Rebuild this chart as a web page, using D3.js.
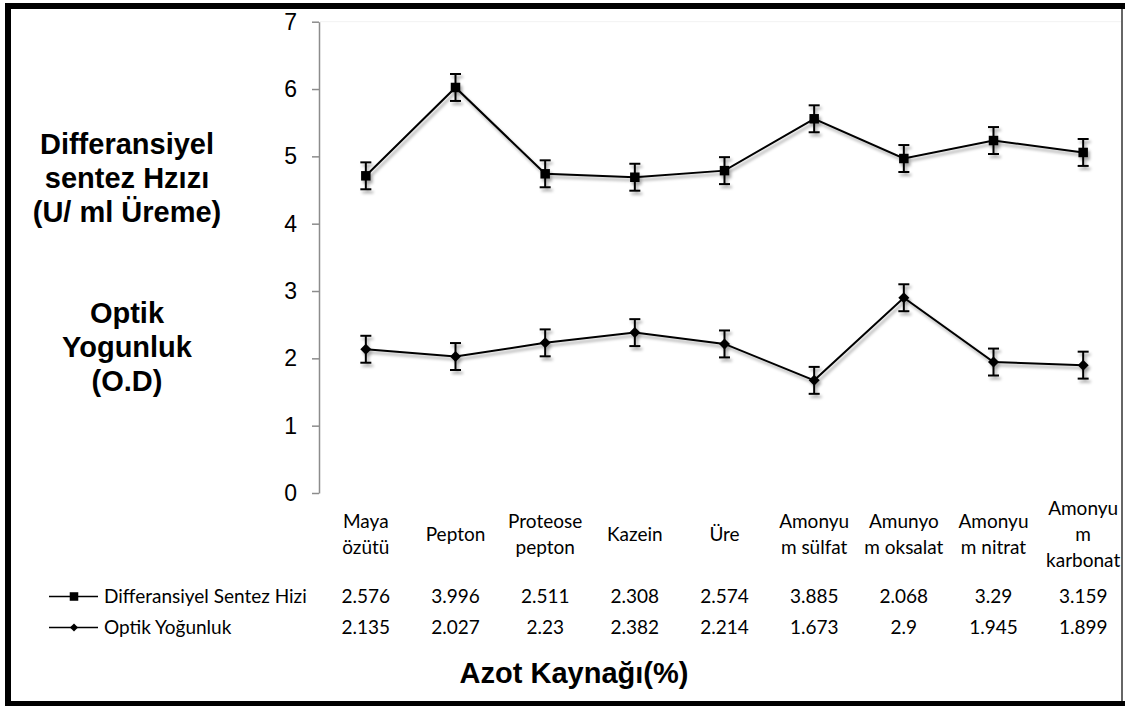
<!DOCTYPE html>
<html>
<head>
<meta charset="utf-8">
<style>
  body { margin: 0; background: #fff; }
  .calib { font-family: Lato, "Open Sans", sans-serif; font-size: 19px; fill: #000; }
  .bold-title { font-family: "Liberation Sans", Arial, sans-serif; font-weight: bold; font-size: 29px; fill: #000; }
</style>
<script src="https://d3js.org/d3.v7.min.js"></script>
</head>
<body>
<svg id="chart" width="1125" height="706"></svg>
<script>
// data (stacked line chart: sentez is drawn on top of optik)
const categories = ["Maya\nözütü", "Pepton", "Proteose\npepton", "Kazein", "Üre",
  "Amonyu\nm sülfat", "Amunyo\nm oksalat", "Amonyu\nm nitrat", "Amonyu\nm\nkarbonat"];
const seriesNames = ["Differansiyel Sentez Hizi", "Optik Yoğunluk"];
const sentezValues = [2.576, 3.996, 2.511, 2.308, 2.574, 3.885, 2.068, 3.29, 3.159];
const optikValues = [2.135, 2.027, 2.23, 2.382, 2.214, 1.673, 2.9, 1.945, 1.899];
const errorValue = 0.2;
const yTicks = [0, 1, 2, 3, 4, 5, 6, 7];
const yTitleTop = ["Differansiyel", "sentez Hzızı", "(U/ ml Üreme)"];
const yTitleBottom = ["Optik", "Yogunluk", "(O.D)"];
const xTitle = "Azot Kaynağı(%)";

const svg = d3.select("#chart");

// shadow like the excel effect
const defs = svg.append("defs");
defs.append("filter").attr("id", "shadow")
  .attr("x", "-10%").attr("y", "-10%").attr("width", "120%").attr("height", "130%")
  .append("feDropShadow")
  .attr("dx", 2).attr("dy", 3).attr("stdDeviation", 1.8)
  .attr("flood-color", "#000").attr("flood-opacity", 0.35);

let rows = categories.map((c, i) => ({ idx: i, optik: optikValues[i], sentez: sentezValues[i] }));
let stacked = d3.stack().keys(["optik", "sentez"])(rows);

let x = d3.scaleBand().domain(d3.range(categories.length)).range([321, 1128]);
let cx = i => x(i) + x.bandwidth() / 2;
let y = d3.scaleLinear().domain([0, 7]).range([493, 21.7]);

// plot area top edge (very faint)
svg.append("line")
  .attr("x1", 320).attr("x2", 1121)
  .attr("y1", y(7)).attr("y2", y(7))
  .attr("stroke", "#f2f2f2").attr("stroke-width", 1);

// y axis
let yAxis = svg.append("g")
  .attr("transform", "translate(319,0)")
  .call(d3.axisLeft(y).tickValues(yTicks).tickFormat(d3.format("d"))
    .tickSizeInner(7).tickSizeOuter(0).tickPadding(15));
yAxis.select(".domain").attr("stroke", "#8c8c8c").attr("stroke-width", 1.5);
yAxis.selectAll(".tick line").attr("stroke", "#8c8c8c").attr("stroke-width", 1.5);
yAxis.selectAll(".tick text")
  .attr("font-family", "'Liberation Sans', Arial, sans-serif")
  .attr("font-size", 23).attr("fill", "#000");

// x axis line with shadow
svg.append("line")
  .attr("x1", 319).attr("x2", 1120)
  .attr("y1", y(0)).attr("y2", y(0))
  .attr("stroke", "#8c8c8c").attr("stroke-width", 1.8)
  .attr("filter", "url(#shadow)");

// right edge of the chart
svg.append("line")
  .attr("x1", 1122).attr("x2", 1122).attr("y1", 6).attr("y2", 706)
  .attr("stroke", "#333").attr("stroke-width", 1.5);

let line = d3.line().x((d, i) => cx(i)).y(d => y(d[1]));

const markerSquare = d3.symbol().type(d3.symbolSquare).size(90);
function diamondPath(r) {
  return "M0," + (-r) + "L" + r + ",0L0," + r + "L" + (-r) + ",0Z";
}

function drawSeries(layer, marker) {
  let g = svg.append("g").attr("filter", "url(#shadow)");
  g.append("path").datum(layer)
    .attr("d", line)
    .attr("fill", "none").attr("stroke", "#000").attr("stroke-width", 2);

  let eb = g.selectAll(".eb").data(layer).enter().append("g");
  eb.append("line")
    .attr("x1", (d, i) => cx(i)).attr("x2", (d, i) => cx(i))
    .attr("y1", d => y(d[1] + errorValue)).attr("y2", d => y(d[1] - errorValue))
    .attr("stroke", "#000").attr("stroke-width", 2);
  [1, -1].forEach(s => {
    eb.append("line")
      .attr("x1", (d, i) => cx(i) - 5.5).attr("x2", (d, i) => cx(i) + 5.5)
      .attr("y1", d => y(d[1] + s * errorValue)).attr("y2", d => y(d[1] + s * errorValue))
      .attr("stroke", "#000").attr("stroke-width", 2);
  });

  g.selectAll(".mk").data(layer).enter().append("path")
    .attr("transform", (d, i) => "translate(" + cx(i) + "," + y(d[1]) + ")")
    .attr("d", marker)
    .attr("fill", "#000");
}

drawSeries(stacked[0], diamondPath(5.5));
drawSeries(stacked[1], markerSquare());

// category labels under the axis
categories.forEach((c, i) => {
  let parts = c.split("\n");
  let t = svg.append("text").attr("class", "calib").attr("text-anchor", "middle");
  parts.forEach((p, k) => {
    t.append("tspan")
      .attr("x", cx(i))
      .attr("y", 541 - (parts.length - 1) * 13 + k * 26)
      .text(p);
  });
});

// data table rows with legend keys
let tableRows = [
  { name: seriesNames[0], values: sentezValues, baseline: 603, marker: markerSquare() },
  { name: seriesNames[1], values: optikValues, baseline: 634, marker: diamondPath(4.5) }
];
tableRows.forEach(r => {
  let my = r.baseline - 6.5;
  svg.append("line")
    .attr("x1", 49).attr("x2", 98).attr("y1", my).attr("y2", my)
    .attr("stroke", "#000").attr("stroke-width", 1.5);
  svg.append("path")
    .attr("transform", "translate(74," + my + ") scale(0.9)")
    .attr("d", r.marker).attr("fill", "#000");
  svg.append("text").attr("class", "calib")
    .attr("x", 104).attr("y", r.baseline).text(r.name);
  svg.selectAll(null).data(r.values).enter().append("text")
    .attr("class", "calib").attr("text-anchor", "middle")
    .attr("x", (d, i) => cx(i)).attr("y", r.baseline)
    .text(d => d);
});

// y titles
[[yTitleTop, 154], [yTitleBottom, 323]].forEach(([lines, top]) => {
  let t = svg.append("text").attr("class", "bold-title").attr("text-anchor", "middle");
  lines.forEach((l, k) => {
    t.append("tspan").attr("x", 127).attr("y", top + k * 34).text(l);
  });
});

// x title
svg.append("text").attr("class", "bold-title")
  .attr("text-anchor", "middle")
  .attr("x", 574).attr("y", 683)
  .text(xTitle);

// outer frame (thick left, top, bottom)
svg.append("path")
  .attr("d", "M1125,6L8,6L8,704L1125,704")
  .attr("fill", "none").attr("stroke", "#000").attr("stroke-width", 6);
</script>
</body>
</html>
